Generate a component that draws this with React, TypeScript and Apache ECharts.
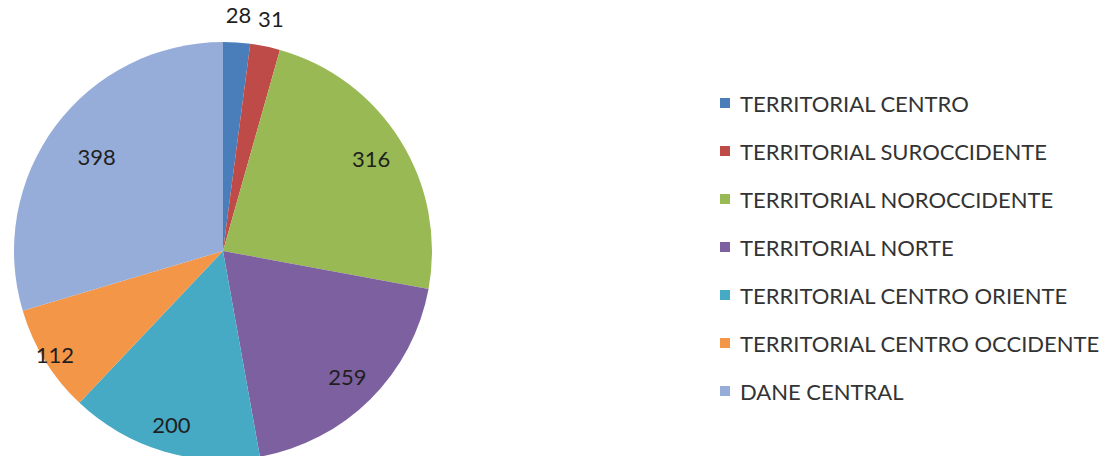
import React, { useEffect, useRef } from "react";
import * as echarts from "echarts";

const categories = [
  "TERRITORIAL CENTRO",
  "TERRITORIAL SUROCCIDENTE",
  "TERRITORIAL NOROCCIDENTE",
  "TERRITORIAL NORTE",
  "TERRITORIAL CENTRO ORIENTE",
  "TERRITORIAL CENTRO OCCIDENTE",
  "DANE CENTRAL",
];
const values = [28, 31, 316, 259, 200, 112, 398];
const colors = ["#4A7EBB", "#BE4B48", "#98B954", "#7D60A0", "#46AAC5", "#F39647", "#97ADD9"];
// label distance from the centre, as a fraction of the pie radius (Excel "best fit" look)
const labelRadiusFraction = [1.12, 1.12, 0.82, 0.83, 0.85, 0.93, 0.74];

export default function App() {
  const ref = useRef<HTMLDivElement>(null);
  useEffect(() => {
    if (!ref.current) return;
    const chart = echarts.init(ref.current, undefined, { renderer: "svg" });
    const R = 209;
    const center = [223, 251];
    const font = "Lato, 'Open Sans', sans-serif";
    const labelFont = { fontFamily: font, fontSize: 22, color: "#1f1f1f" };
    const baseData = categories.map((n, i) => ({ name: n, value: values[i], itemStyle: { color: colors[i] } }));

    const labelSeries = categories.map((_, k) => ({
      type: "pie",
      center,
      radius: [0, R * 2 * labelRadiusFraction[k]],
      startAngle: 90,
      clockwise: true,
      silent: true,
      labelLine: { show: false },
      itemStyle: { color: "rgba(0,0,0,0)", borderWidth: 0 },
      label: { show: true, position: "inside", formatter: "{c}", ...labelFont },
      data: categories.map((n, i) => ({
        name: n,
        value: values[i],
        itemStyle: { color: "rgba(0,0,0,0)" },
        label: { show: i === k },
      })),
    }));

    chart.setOption({
      animation: false,
      legend: {
        orient: "vertical",
        left: 715,
        top: 86,
        itemWidth: 10,
        itemHeight: 10,
        itemGap: 24,
        icon: "rect",
        data: categories,
        textStyle: {
          fontFamily: font,
          fontSize: 22,
          color: "#333333",
          lineHeight: 24,
          padding: [0, 0, 0, 5],
        },
      },
      series: [
        {
          type: "pie",
          center,
          radius: [0, R],
          startAngle: 90,
          clockwise: true,
          label: { show: false },
          labelLine: { show: false },
          itemStyle: { borderWidth: 0 },
          silent: true,
          data: baseData,
        },
        ...labelSeries,
      ],
    });
    return () => chart.dispose();
  }, []);
  return (
    <div
      ref={ref}
      style={{ position: "fixed", left: 0, top: 0, width: 1103, height: 456, background: "#fff" }}
    />
  );
}
